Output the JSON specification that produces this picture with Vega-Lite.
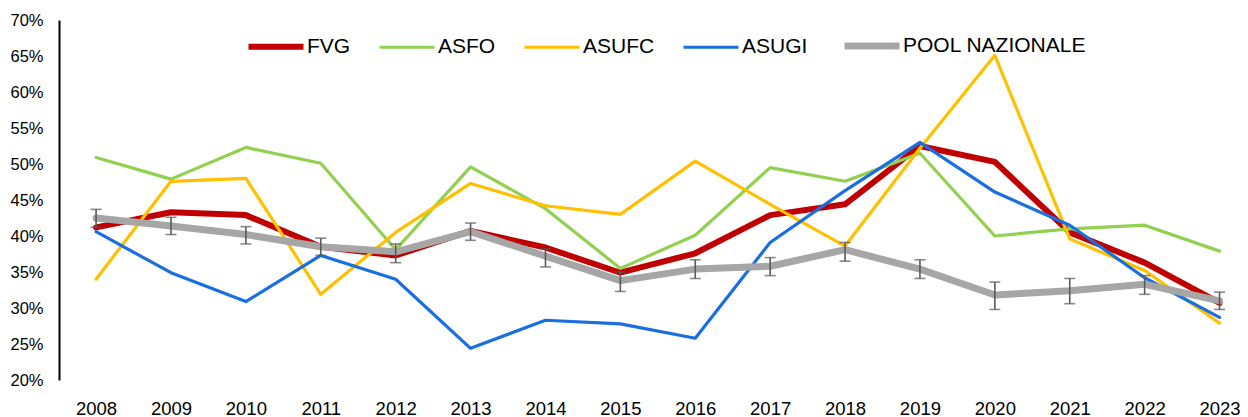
{
  "$schema": "https://vega.github.io/schema/vega-lite/v6.json",
  "autosize": "none",
  "width": 1189,
  "height": 360,
  "padding": {"left": 59, "top": 20, "right": 0, "bottom": 37},
  "background": "white",
  "config": {
    "view": {"stroke": null},
    "font": "Liberation Sans"
  },
  "datasets": {
    "lines": [
      {"year": 2008, "series": "FVG", "v": 0.412}, {"year": 2009, "series": "FVG", "v": 0.433}, {"year": 2010, "series": "FVG", "v": 0.429}, {"year": 2011, "series": "FVG", "v": 0.385}, {"year": 2012, "series": "FVG", "v": 0.373}, {"year": 2013, "series": "FVG", "v": 0.407}, {"year": 2014, "series": "FVG", "v": 0.384}, {"year": 2015, "series": "FVG", "v": 0.349}, {"year": 2016, "series": "FVG", "v": 0.376}, {"year": 2017, "series": "FVG", "v": 0.429}, {"year": 2018, "series": "FVG", "v": 0.444}, {"year": 2019, "series": "FVG", "v": 0.525}, {"year": 2020, "series": "FVG", "v": 0.503}, {"year": 2021, "series": "FVG", "v": 0.405}, {"year": 2022, "series": "FVG", "v": 0.363}, {"year": 2023, "series": "FVG", "v": 0.307},
      {"year": 2008, "series": "ASFO", "v": 0.509}, {"year": 2009, "series": "ASFO", "v": 0.479}, {"year": 2010, "series": "ASFO", "v": 0.523}, {"year": 2011, "series": "ASFO", "v": 0.501}, {"year": 2012, "series": "ASFO", "v": 0.381}, {"year": 2013, "series": "ASFO", "v": 0.496}, {"year": 2014, "series": "ASFO", "v": 0.438}, {"year": 2015, "series": "ASFO", "v": 0.355}, {"year": 2016, "series": "ASFO", "v": 0.401}, {"year": 2017, "series": "ASFO", "v": 0.495}, {"year": 2018, "series": "ASFO", "v": 0.476}, {"year": 2019, "series": "ASFO", "v": 0.515}, {"year": 2020, "series": "ASFO", "v": 0.400}, {"year": 2021, "series": "ASFO", "v": 0.410}, {"year": 2022, "series": "ASFO", "v": 0.415}, {"year": 2023, "series": "ASFO", "v": 0.379},
      {"year": 2008, "series": "ASUFC", "v": 0.340}, {"year": 2009, "series": "ASUFC", "v": 0.476}, {"year": 2010, "series": "ASUFC", "v": 0.480}, {"year": 2011, "series": "ASUFC", "v": 0.319}, {"year": 2012, "series": "ASUFC", "v": 0.405}, {"year": 2013, "series": "ASUFC", "v": 0.473}, {"year": 2014, "series": "ASUFC", "v": 0.442}, {"year": 2015, "series": "ASUFC", "v": 0.430}, {"year": 2016, "series": "ASUFC", "v": 0.504}, {"year": 2017, "series": "ASUFC", "v": 0.444}, {"year": 2018, "series": "ASUFC", "v": 0.386}, {"year": 2019, "series": "ASUFC", "v": 0.522}, {"year": 2020, "series": "ASUFC", "v": 0.651}, {"year": 2021, "series": "ASUFC", "v": 0.396}, {"year": 2022, "series": "ASUFC", "v": 0.352}, {"year": 2023, "series": "ASUFC", "v": 0.279},
      {"year": 2008, "series": "ASUGI", "v": 0.406}, {"year": 2009, "series": "ASUGI", "v": 0.349}, {"year": 2010, "series": "ASUGI", "v": 0.309}, {"year": 2011, "series": "ASUGI", "v": 0.373}, {"year": 2012, "series": "ASUGI", "v": 0.340}, {"year": 2013, "series": "ASUGI", "v": 0.244}, {"year": 2014, "series": "ASUGI", "v": 0.283}, {"year": 2015, "series": "ASUGI", "v": 0.278}, {"year": 2016, "series": "ASUGI", "v": 0.258}, {"year": 2017, "series": "ASUGI", "v": 0.391}, {"year": 2018, "series": "ASUGI", "v": 0.463}, {"year": 2019, "series": "ASUGI", "v": 0.530}, {"year": 2020, "series": "ASUGI", "v": 0.461}, {"year": 2021, "series": "ASUGI", "v": 0.415}, {"year": 2022, "series": "ASUGI", "v": 0.342}, {"year": 2023, "series": "ASUGI", "v": 0.287},
      {"year": 2008, "series": "POOL NAZIONALE", "v": 0.425}, {"year": 2009, "series": "POOL NAZIONALE", "v": 0.414}, {"year": 2010, "series": "POOL NAZIONALE", "v": 0.402}, {"year": 2011, "series": "POOL NAZIONALE", "v": 0.385}, {"year": 2012, "series": "POOL NAZIONALE", "v": 0.378}, {"year": 2013, "series": "POOL NAZIONALE", "v": 0.406}, {"year": 2014, "series": "POOL NAZIONALE", "v": 0.372}, {"year": 2015, "series": "POOL NAZIONALE", "v": 0.338}, {"year": 2016, "series": "POOL NAZIONALE", "v": 0.354}, {"year": 2017, "series": "POOL NAZIONALE", "v": 0.358}, {"year": 2018, "series": "POOL NAZIONALE", "v": 0.381}, {"year": 2019, "series": "POOL NAZIONALE", "v": 0.354}, {"year": 2020, "series": "POOL NAZIONALE", "v": 0.318}, {"year": 2021, "series": "POOL NAZIONALE", "v": 0.324}, {"year": 2022, "series": "POOL NAZIONALE", "v": 0.333}, {"year": 2023, "series": "POOL NAZIONALE", "v": 0.310}
    ],
    "errs": [
      {"year": 2008, "lo": 0.412, "hi": 0.437}, {"year": 2009, "lo": 0.402, "hi": 0.426}, {"year": 2010, "lo": 0.389, "hi": 0.413}, {"year": 2011, "lo": 0.373, "hi": 0.397}, {"year": 2012, "lo": 0.363, "hi": 0.389}, {"year": 2013, "lo": 0.394, "hi": 0.418}, {"year": 2014, "lo": 0.357, "hi": 0.382}, {"year": 2015, "lo": 0.323, "hi": 0.350}, {"year": 2016, "lo": 0.341, "hi": 0.367}, {"year": 2017, "lo": 0.345, "hi": 0.370}, {"year": 2018, "lo": 0.365, "hi": 0.391}, {"year": 2019, "lo": 0.341, "hi": 0.367}, {"year": 2020, "lo": 0.298, "hi": 0.336}, {"year": 2021, "lo": 0.306, "hi": 0.341}, {"year": 2022, "lo": 0.319, "hi": 0.345}, {"year": 2023, "lo": 0.298, "hi": 0.322}
    ]
  },
  "layer": [
    {
      "data": {"name": "lines"},
      "mark": {"type": "line", "strokeJoin": "round", "strokeCap": "round"},
      "encoding": {
        "x": {
          "field": "year", "type": "quantitative",
          "scale": {"domain": [2007.505, 2023.38], "nice": false, "zero": false},
          "axis": {"values": [2008, 2009, 2010, 2011, 2012, 2013, 2014, 2015, 2016, 2017, 2018, 2019, 2020, 2021, 2022, 2023], "format": "d", "title": null, "grid": false, "domain": false, "ticks": false, "labelFontSize": 18.5, "labelPadding": 19, "labelColor": "black", "labelFlush": false, "labelOverlap": false}
        },
        "y": {
          "field": "v", "type": "quantitative",
          "scale": {"domain": [0.2, 0.7], "nice": false, "zero": false},
          "axis": {"values": [0.2, 0.25, 0.3, 0.35, 0.4, 0.45, 0.5, 0.55, 0.6, 0.65, 0.7], "format": ".0%", "title": null, "grid": false, "domain": true, "domainColor": "black", "domainWidth": 2, "ticks": false, "labelFontSize": 16.5, "labelPadding": 16, "labelColor": "black", "labelOverlap": false, "labelFlush": false}
        },
        "color": {
          "field": "series", "type": "nominal",
          "scale": {"domain": ["FVG", "ASFO", "ASUFC", "ASUGI", "POOL NAZIONALE"], "range": ["#C00000", "#92D050", "#FFC000", "#1A6FE0", "#A6A6A6"]},
          "legend": {
            "title": null, "orient": "none", "direction": "horizontal", "columns": 5,
            "legendX": 186, "legendY": -5, "padding": 0,
            "symbolType": "stroke", "symbolSize": 3025, "labelFontSize": 21, "labelColor": "black",
            "labelOffset": 0, "columnPadding": 22, "labelLimit": 400
          }
        },
        "strokeWidth": {
          "field": "series", "type": "nominal",
          "scale": {"type": "ordinal", "domain": ["FVG", "ASFO", "ASUFC", "ASUGI", "POOL NAZIONALE"], "range": [6, 3.2, 3.2, 3.2, 7]},
          "legend": null
        },
        "order": {"field": "year", "type": "quantitative"}
      }
    },
    {
      "data": {"name": "errs"},
      "mark": {"type": "rule", "color": "#595959", "strokeWidth": 1.6},
      "encoding": {
        "x": {"field": "year", "type": "quantitative",
          "axis": {"values": [2008, 2009, 2010, 2011, 2012, 2013, 2014, 2015, 2016, 2017, 2018, 2019, 2020, 2021, 2022, 2023], "format": "d", "title": null, "grid": false, "domain": false, "ticks": false, "labelFontSize": 18.5, "labelPadding": 19, "labelColor": "black", "labelFlush": false, "labelOverlap": false}},
        "y": {"field": "lo", "type": "quantitative",
          "axis": {"values": [0.2, 0.25, 0.3, 0.35, 0.4, 0.45, 0.5, 0.55, 0.6, 0.65, 0.7], "format": ".0%", "title": null, "grid": false, "domain": true, "domainColor": "black", "domainWidth": 2, "ticks": false, "labelFontSize": 16.5, "labelPadding": 16, "labelColor": "black", "labelOverlap": false, "labelFlush": false}},
        "y2": {"field": "hi"}
      }
    },
    {
      "data": {"name": "errs"},
      "mark": {"type": "tick", "orient": "horizontal", "color": "#595959", "thickness": 1.6, "size": 11},
      "encoding": {
        "x": {"field": "year", "type": "quantitative",
          "axis": {"values": [2008, 2009, 2010, 2011, 2012, 2013, 2014, 2015, 2016, 2017, 2018, 2019, 2020, 2021, 2022, 2023], "format": "d", "title": null, "grid": false, "domain": false, "ticks": false, "labelFontSize": 18.5, "labelPadding": 19, "labelColor": "black", "labelFlush": false, "labelOverlap": false}},
        "y": {"field": "lo", "type": "quantitative",
          "axis": {"values": [0.2, 0.25, 0.3, 0.35, 0.4, 0.45, 0.5, 0.55, 0.6, 0.65, 0.7], "format": ".0%", "title": null, "grid": false, "domain": true, "domainColor": "black", "domainWidth": 2, "ticks": false, "labelFontSize": 16.5, "labelPadding": 16, "labelColor": "black", "labelOverlap": false, "labelFlush": false}}
      }
    },
    {
      "data": {"name": "errs"},
      "mark": {"type": "tick", "orient": "horizontal", "color": "#595959", "thickness": 1.6, "size": 11},
      "encoding": {
        "x": {"field": "year", "type": "quantitative",
          "axis": {"values": [2008, 2009, 2010, 2011, 2012, 2013, 2014, 2015, 2016, 2017, 2018, 2019, 2020, 2021, 2022, 2023], "format": "d", "title": null, "grid": false, "domain": false, "ticks": false, "labelFontSize": 18.5, "labelPadding": 19, "labelColor": "black", "labelFlush": false, "labelOverlap": false}},
        "y": {"field": "hi", "type": "quantitative",
          "axis": {"values": [0.2, 0.25, 0.3, 0.35, 0.4, 0.45, 0.5, 0.55, 0.6, 0.65, 0.7], "format": ".0%", "title": null, "grid": false, "domain": true, "domainColor": "black", "domainWidth": 2, "ticks": false, "labelFontSize": 16.5, "labelPadding": 16, "labelColor": "black", "labelOverlap": false, "labelFlush": false}}
      }
    }
  ]
}
